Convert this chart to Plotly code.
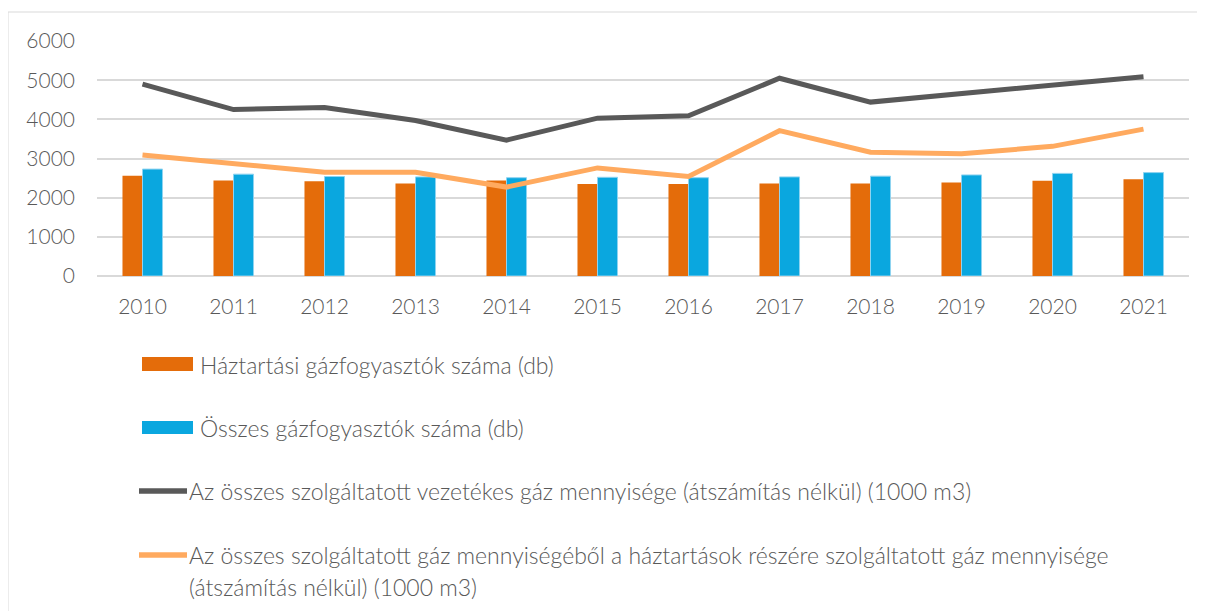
import plotly.graph_objects as go

years = ["2010", "2011", "2012", "2013", "2014", "2015", "2016", "2017", "2018", "2019", "2020", "2021"]
haztartasi_fogy = [2560, 2440, 2420, 2360, 2440, 2350, 2350, 2360, 2360, 2390, 2430, 2470]
osszes_fogy = [2730, 2600, 2540, 2530, 2510, 2520, 2510, 2530, 2550, 2580, 2620, 2640]
osszes_gaz = [4900, 4250, 4300, 3970, 3470, 4030, 4090, 5050, 4440, 4660, 4860, 5090]
haztartasi_gaz = [3090, 2880, 2650, 2650, 2270, 2760, 2540, 3710, 3160, 3120, 3310, 3750]

names = [
    "Háztartási gázfogyasztók száma (db)",
    "Összes gázfogyasztók száma (db)",
    "Az összes szolgáltatott vezetékes gáz mennyisége (átszámítás nélkül) (1000 m3)",
    "Az összes szolgáltatott gáz mennyiségéből a háztartások részére szolgáltatott gáz mennyisége<br>(átszámítás nélkül) (1000 m3)",
]
colors = ["#E46C0A", "#0AA7DF", "#595959", "#FFAA5F"]

OFF = 8  # browser body margin
W, H = 1205 - OFF, 611 - OFF
L, R, T, B = 97 - OFF, 1189 - OFF, 41 - OFF, 276 - OFF
FONT = "Lato"
TXT = "#595959"
WEIGHT = 300

fig = go.Figure()
fig.add_trace(go.Bar(x=years, y=haztartasi_fogy, name=names[0], marker=dict(color=colors[0], line=dict(width=0))))
fig.add_trace(go.Bar(x=years, y=osszes_fogy, name=names[1], marker=dict(color=colors[1], line=dict(color="#8FD3F0", width=1))))
fig.add_trace(go.Scatter(x=years, y=osszes_gaz, name=names[2], mode="lines", line=dict(color=colors[2], width=5)))
fig.add_trace(go.Scatter(x=years, y=haztartasi_gaz, name=names[3], mode="lines", line=dict(color=colors[3], width=5)))


def px(x):
    return (x - OFF - L) / (R - L)


def py(y):
    return (B - (y - OFF)) / (B - T)


shapes = [
    dict(type="rect", xref="paper", yref="paper", x0=px(8), x1=px(1230), y0=py(12), y1=py(640),
         line=dict(color="#D9D9D9", width=1), fillcolor="rgba(0,0,0,0)", layer="below"),
    dict(type="rect", xref="paper", yref="paper", x0=px(142), x1=px(193), y0=py(371), y1=py(357),
         line=dict(width=0), fillcolor=colors[0]),
    dict(type="rect", xref="paper", yref="paper", x0=px(142), x1=px(193), y0=py(434), y1=py(421),
         line=dict(width=0), fillcolor=colors[1]),
    dict(type="line", xref="paper", yref="paper", x0=px(139), x1=px(187), y0=py(491), y1=py(491),
         line=dict(color=colors[2], width=5.5)),
    dict(type="line", xref="paper", yref="paper", x0=px(139), x1=px(187), y0=py(555), y1=py(555),
         line=dict(color=colors[3], width=5.5)),
]

legend_items = []
for i, n in enumerate(names):
    for j, part in enumerate(n.split("<br>")):
        legend_items.append((i, j, part))
legend_x = {0: 198, 1: 198, 2: 187, 3: 187}
legend_y = {(0, 0): 365, (1, 0): 428, (2, 0): 491, (3, 0): 555, (3, 1): 587}

annotations = []
for i, j, part in legend_items:
    annotations.append(dict(text=part, xref="paper", yref="paper", x=px(legend_x[i]), y=py(legend_y[(i, j)]),
                            xanchor="left", yanchor="middle", align="left", showarrow=False,
                            font=dict(family=FONT, size=23, color=TXT, weight=WEIGHT)))

fig.update_layout(
    width=W, height=H,
    margin=dict(l=L, r=W - R, t=T, b=H - B, autoexpand=False),
    paper_bgcolor="white", plot_bgcolor="white",
    barmode="group", bargap=0.56, bargroupgap=0,
    showlegend=False,
    shapes=shapes, annotations=annotations,
    font=dict(family=FONT, color=TXT, weight=WEIGHT),
)
fig.update_xaxes(showgrid=False, showline=False, ticks="",
                 tickfont=dict(family=FONT, size=21, color=TXT, weight=WEIGHT), ticklabelstandoff=16)
fig.update_yaxes(range=[0, 6000], dtick=1000, showgrid=True, gridcolor="#D9D9D9", gridwidth=1.5,
                 zeroline=True, zerolinecolor="#D9D9D9", zerolinewidth=1.5, showline=False, ticks="",
                 tickfont=dict(family=FONT, size=21, color=TXT, weight=WEIGHT), ticklabelstandoff=21)

fig.write_html("out.html")
